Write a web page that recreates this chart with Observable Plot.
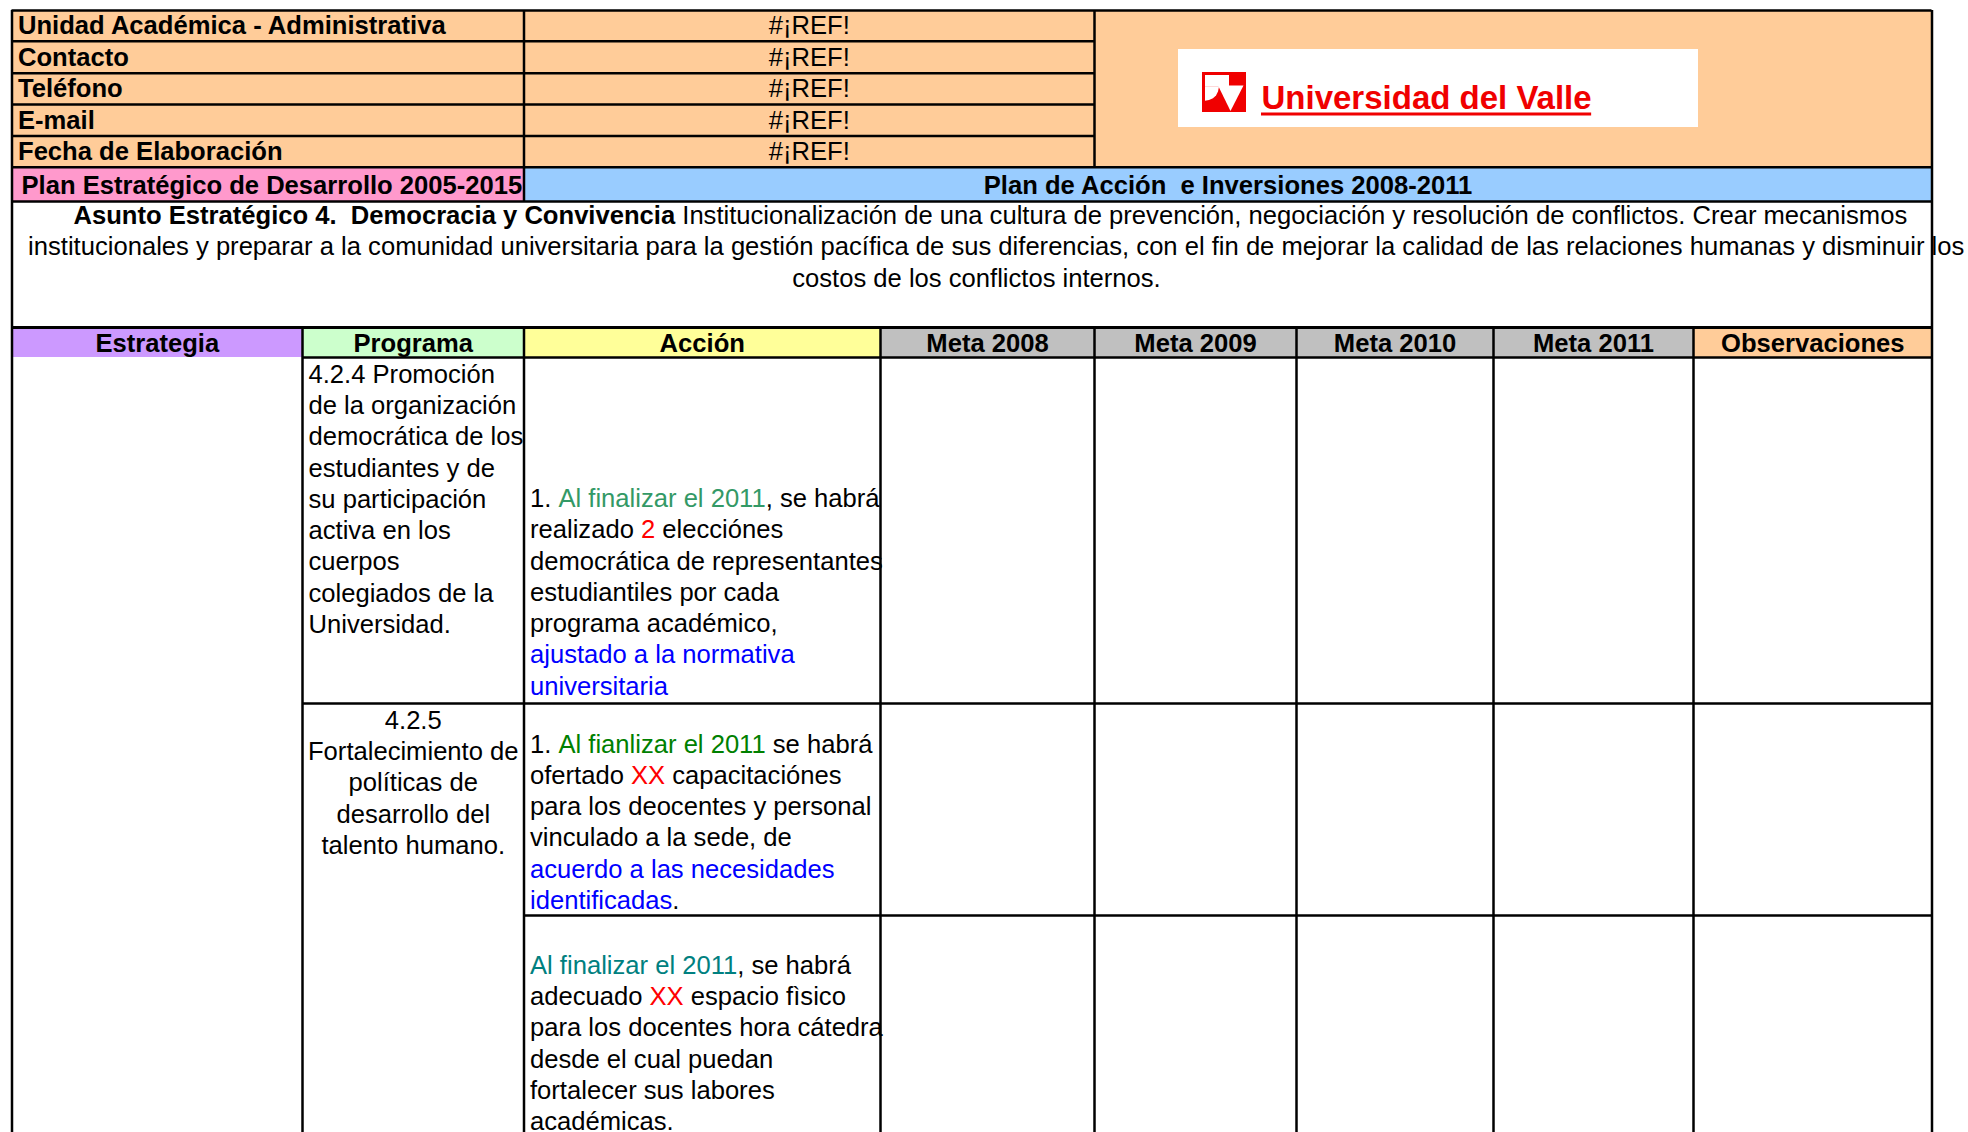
<!DOCTYPE html>
<html>
<head>
<meta charset="utf-8">
<script src="https://cdn.jsdelivr.net/npm/d3@7"></script>
<script src="https://cdn.jsdelivr.net/npm/@observablehq/plot@0.6"></script>
<style>
html, body { margin: 0; padding: 0; background: #fff; overflow: hidden; }
#chart svg { display: block; }
#chart svg text { white-space: pre; }
</style>
</head>
<body>
<div id="chart"></div>
<script>
// ---------------- DATA (texts of the sheet) ----------------
const infoLabels = ["Unidad Académica - Administrativa", "Contacto", "Teléfono", "E-mail", "Fecha de Elaboración"];
const infoValues = ["#¡REF!", "#¡REF!", "#¡REF!", "#¡REF!", "#¡REF!"];
const planTitles = ["Plan Estratégico de Desarrollo 2005-2015", "Plan de Acción  e Inversiones 2008-2011"];
const asuntoLines = [
  [["Asunto Estratégico 4.  Democracia y Convivencia", "bold"], [" Institucionalización de una cultura de prevención, negociación y resolución de conflictos. Crear mecanismos", "text"]],
  [["institucionales y preparar a la comunidad universitaria para la gestión pacífica de sus diferencias, con el fin de mejorar la calidad de las relaciones humanas y disminuir los", "text"]],
  [["costos de los conflictos internos.", "text"]]
];
const headers = ["Estrategia", "Programa", "Acción", "Meta 2008", "Meta 2009", "Meta 2010", "Meta 2011", "Observaciones"];
const programa1 = ["4.2.4 Promoción", "de la organización", "democrática de los", "estudiantes y de", "su participación", "activa en los", "cuerpos", "colegiados de la", "Universidad."];
const programa2 = ["4.2.5", "Fortalecimiento de", "políticas de", "desarrollo del", "talento humano."];
const accion1 = [
  [["1. ", "text"], ["Al finalizar el 2011", "deadline"], [", se habrá", "text"]],
  [["realizado ", "text"], ["2", "target"], [" elecciónes", "text"]],
  [["democrática de representantes", "text"]],
  [["estudiantiles por cada", "text"]],
  [["programa académico,", "text"]],
  [["ajustado a la normativa", "condition"]],
  [["universitaria", "condition"]]
];
const accion2 = [
  [["1. ", "text"], ["Al fianlizar el 2011", "deadline"], [" se habrá", "text"]],
  [["ofertado ", "text"], ["XX", "target"], [" capacitaciónes", "text"]],
  [["para los deocentes y personal", "text"]],
  [["vinculado a la sede, de", "text"]],
  [["acuerdo a las necesidades", "condition"]],
  [["identificadas", "condition"], [".", "text"]]
];
const accion3 = [
  [["Al finalizar el 2011", "deadline"], [", se habrá", "text"]],
  [["adecuado ", "text"], ["XX", "target"], [" espacio fìsico", "text"]],
  [["para los docentes hora cátedra", "text"]],
  [["desde el cual puedan", "text"]],
  [["fortalecer sus labores", "text"]],
  [["académicas.", "text"]]
];
const logoText = "Universidad del Valle";

// ---------------- STYLE ----------------
const FONT = '"Liberation Sans", Arial, Helvetica, sans-serif';
const FS = 25.6;
const LH = 31.25;
const LOGO_FS = 33;
const orange = "#FFCC99", pink = "#FF99CC", blue = "#99CCFF";
const headerFills = ["#CC99FF", "#CCFFCC", "#FFFF99", "#C0C0C0", "#C0C0C0", "#C0C0C0", "#C0C0C0", "#FFCC99"];
const baseColors = {text: "#000000", bold: "#000000", target: "#FF0000", condition: "#0000FF"};
const deadlineColors = ["#339966", "#008000", "#008080"];
const logoRed = "#F00000";

// ---------------- LAYOUT ----------------
const W = 1968, H = 1132;
const colX = [11.5, 302, 523.5, 880, 1094, 1296, 1493, 1693, 1931.5];
const infoY = [10, 40.7, 72.7, 104, 135.5, 166.7];
const planY = [166.7, 201];
const descY = [201, 327];
const headY = [327, 357];
const bodyY = [357, 703, 915, H];
const padL = 6;

const ctx = document.createElement("canvas").getContext("2d");
function tw(s, bold, size = FS) {
  ctx.font = (bold ? "bold " : "") + size + 'px "Liberation Sans"';
  return ctx.measureText(s).width;
}

// lay out one line of coloured segments
function layoutLine(segs, x0, y, anchor, deadlineColor) {
  const total = segs.reduce((a, [s, r]) => a + tw(s, r === "bold"), 0);
  let cur = anchor === "middle" ? x0 - total / 2 : x0;
  const out = [];
  for (const [s, r] of segs) {
    const bold = r === "bold";
    const lead = s.match(/^ */)[0];
    const t = s.trim();
    const fill = r === "deadline" ? deadlineColor : baseColors[r];
    if (t.length) out.push({x: cur + tw(lead, bold), y, text: t, fill, bold});
    cur += tw(s, bold);
  }
  return out;
}

const texts = [];
// info rows
infoLabels.forEach((s, i) => texts.push({x: colX[0] + padL, y: infoY[i + 1] - 7.5, text: s, fill: "#000", bold: true, anchor: "start"}));
infoValues.forEach((s, i) => texts.push({x: (colX[2] + colX[4]) / 2, y: infoY[i + 1] - 7.5, text: s, fill: "#000", bold: false, anchor: "middle"}));
// plan titles
texts.push({x: colX[0] + 9.5, y: planY[1] - 7.5, text: planTitles[0], fill: "#000", bold: true, anchor: "start"});
texts.push({x: (colX[2] + colX[8]) / 2, y: planY[1] - 7.5, text: planTitles[1], fill: "#000", bold: true, anchor: "middle"});
// description
const descStarts = [[73, "start"], [27.6, "start"], [976, "middle"]];
asuntoLines.forEach((segs, i) => {
  const [x0, a] = descStarts[i];
  layoutLine(segs, x0, descY[0] + 22.5 + i * LH, a, "#000")
    .forEach(d => texts.push({...d, anchor: "start"}));
});
// headers
headers.forEach((s, i) => texts.push({x: (colX[i] + colX[i + 1]) / 2, y: headY[1] - 5.5, text: s, fill: "#000", bold: true, anchor: "middle"}));
// programa cells
programa1.forEach((s, i) => texts.push({x: colX[1] + padL, y: bodyY[0] + 25.3 + i * LH, text: s, fill: "#000", bold: false, anchor: "start"}));
programa2.forEach((s, i) => texts.push({x: (colX[1] + colX[2]) / 2, y: bodyY[1] + 25.3 + i * LH, text: s, fill: "#000", bold: false, anchor: "middle"}));
// acción cells
const accionCells = [[accion1, bodyY[1] - 196.3, 0], [accion2, bodyY[1] + 49, 1], [accion3, bodyY[2] + 58.3, 2]];
accionCells.forEach(([lines, y0, k]) => {
  lines.forEach((segs, i) => {
    layoutLine(segs, colX[2] + padL, y0 + i * LH, "start", deadlineColors[k])
      .forEach(d => texts.push({...d, anchor: "start"}));
  });
});

// fills
const fills = [
  {x1: colX[0], x2: colX[8], y1: infoY[0], y2: infoY[5], fill: orange},
  {x1: colX[0], x2: colX[2], y1: planY[0], y2: planY[1], fill: pink},
  {x1: colX[2], x2: colX[8], y1: planY[0], y2: planY[1], fill: blue},
  ...headers.map((h, i) => ({x1: colX[i], x2: colX[i + 1], y1: headY[0], y2: headY[1], fill: headerFills[i]}))
];

// borders
const hLines = [
  {y: infoY[0], x1: colX[0], x2: colX[8], w: 2.5},
  ...infoY.slice(1, 5).map(y => ({y, x1: colX[0], x2: colX[4], w: 2.5})),
  {y: infoY[5], x1: colX[0], x2: colX[8], w: 2.5},
  {y: planY[1], x1: colX[0], x2: colX[8], w: 2.5},
  {y: headY[0], x1: colX[0], x2: colX[8], w: 3},
  {y: headY[1], x1: colX[1], x2: colX[8], w: 2.5},
  {y: bodyY[1], x1: colX[1], x2: colX[8], w: 2.5},
  {y: bodyY[2], x1: colX[2], x2: colX[8], w: 2.5}
];
const vLines = [
  {x: colX[0], y1: infoY[0], y2: H},
  {x: colX[8], y1: infoY[0], y2: H},
  {x: colX[2], y1: infoY[0], y2: planY[1]},
  {x: colX[4], y1: infoY[0], y2: infoY[5]},
  ...colX.slice(1, 8).map(x => ({x, y1: headY[0], y2: H}))
];

// logo
const logoBox = {x1: 1178, x2: 1698, y1: 49, y2: 127};
const logoSquare = {x1: 1202, x2: 1246, y1: 72, y2: 112};
const logoWhiteRect = {x1: 1205, x2: 1229, y1: 75, y2: 86.7};
const logoArc = [[1205, 100.7], [1209, 100.1], [1213, 98.3], [1216, 95.6], [1218, 91.5], [1219, 86.7]].map(([x, y]) => ({x, y1: 86.5, y2: y}));
const logoTri = [[1218, 85.5], [1230.5, 111], [1243.5, 85.5]].map(([x, y]) => ({x, y1: 85.5, y2: y}));
const logoTextX = 1261;
const logoTextW = tw(logoText, true, LOGO_FS);

function textMarks(data) {
  const marks = [];
  for (const bold of [false, true]) for (const anchor of ["start", "middle"]) {
    const sub = data.filter(d => d.bold === bold && d.anchor === anchor);
    if (!sub.length) continue;
    marks.push(Plot.text(sub, {x: "x", y: "y", text: "text", fill: "fill", textAnchor: anchor, lineAnchor: "bottom", fontSize: FS, fontWeight: bold ? "bold" : "normal"}));
  }
  return marks;
}

const chart = Plot.plot({
  width: W, height: H, margin: 0,
  x: {domain: [0, W], range: [0, W], axis: null},
  y: {domain: [0, H], range: [0, H], axis: null},
  color: {type: "identity"},
  style: {fontFamily: FONT, background: "#fff", overflow: "hidden"},
  marks: [
    Plot.rect(fills, {x1: "x1", x2: "x2", y1: "y1", y2: "y2", fill: "fill"}),
    Plot.rect([logoBox], {x1: "x1", x2: "x2", y1: "y1", y2: "y2", fill: "#fff"}),
    Plot.rect([logoSquare], {x1: "x1", x2: "x2", y1: "y1", y2: "y2", fill: logoRed}),
    Plot.rect([logoWhiteRect], {x1: "x1", x2: "x2", y1: "y1", y2: "y2", fill: "#fff"}),
    Plot.areaY(logoArc, {x: "x", y1: "y1", y2: "y2", fill: "#fff", curve: "linear"}),
    Plot.areaY(logoTri, {x: "x", y1: "y1", y2: "y2", fill: "#fff", curve: "linear"}),
    Plot.text([logoText], {x: logoTextX, y: 108.5, text: d => d, fill: logoRed, textAnchor: "start", lineAnchor: "bottom", fontSize: LOGO_FS, fontWeight: "bold"}),
    Plot.ruleY([113.5], {x1: logoTextX, x2: logoTextX + logoTextW, stroke: logoRed, strokeWidth: 3}),
    ...textMarks(texts),
    ...[2.5, 3].map(w => Plot.ruleY(hLines.filter(d => d.w === w), {y: "y", x1: "x1", x2: "x2", stroke: "#000", strokeWidth: w})),
    Plot.ruleX(vLines, {x: "x", y1: "y1", y2: "y2", stroke: "#000", strokeWidth: 2.5})
  ]
});
document.getElementById("chart").appendChild(chart);
</script>
</body>
</html>
